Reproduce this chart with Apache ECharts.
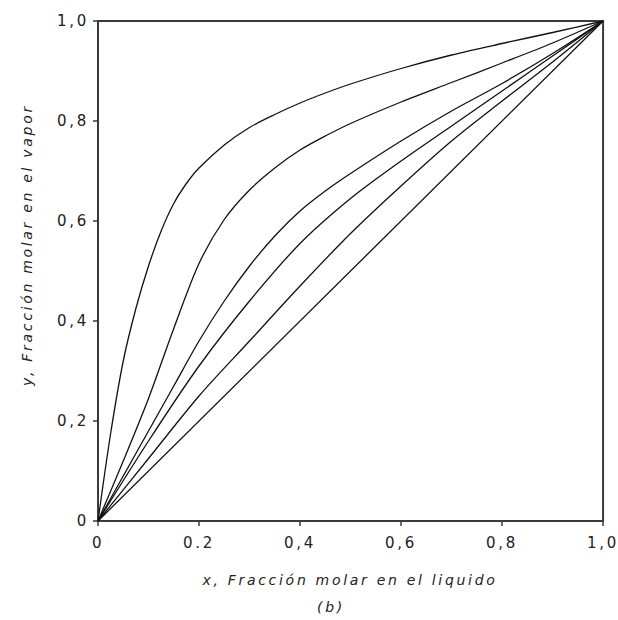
<!DOCTYPE html>
<html>
<head>
<meta charset="utf-8">
<script src="https://cdn.jsdelivr.net/npm/echarts@6/dist/echarts.min.js"></script>
<style>
  html, body { margin: 0; padding: 0; background: #fff; }
  #chart { width: 618px; height: 620px; }
  #chart svg text { letter-spacing: 2.7px; }
</style>
</head>
<body>
<div id="chart"></div>
<script>
// ---- data ----
var xTickLabels = ['0', '0.2', '0,4', '0,6', '0,8', '1,0'];
var yTickLabels = ['0', '0,2', '0,4', '0,6', '0,8', '1,0'];

var c1X = [0, 0.025, 0.05, 0.075, 0.10, 0.125, 0.15, 0.175, 0.20, 0.25, 0.30, 0.35, 0.40, 0.45, 0.50, 0.60, 0.70, 0.80, 0.90, 1.0];
var c1Y = [0, 0.175, 0.32, 0.425, 0.51, 0.58, 0.635, 0.675, 0.706, 0.752, 0.787, 0.813, 0.836, 0.856, 0.874, 0.905, 0.932, 0.955, 0.977, 1.0];

var c2X = [0, 0.05, 0.10, 0.15, 0.20, 0.25, 0.30, 0.35, 0.40, 0.45, 0.50, 0.60, 0.70, 0.80, 0.90, 1.0];
var c2Y = [0, 0.12, 0.245, 0.385, 0.515, 0.603, 0.662, 0.706, 0.742, 0.77, 0.795, 0.838, 0.877, 0.916, 0.956, 1.0];

var c3X = [0, 0.05, 0.10, 0.15, 0.20, 0.25, 0.30, 0.35, 0.40, 0.45, 0.50, 0.60, 0.70, 0.80, 0.90, 1.0];
var c3Y = [0, 0.09, 0.18, 0.27, 0.36, 0.44, 0.51, 0.57, 0.62, 0.66, 0.695, 0.76, 0.82, 0.875, 0.935, 1.0];

var c4X = [0, 0.10, 0.20, 0.30, 0.40, 0.50, 0.60, 0.70, 0.80, 0.90, 1.0];
var c4Y = [0, 0.16, 0.31, 0.44, 0.555, 0.645, 0.72, 0.79, 0.86, 0.93, 1.0];

var c5X = [0, 0.10, 0.20, 0.30, 0.40, 0.50, 0.60, 0.70, 0.80, 0.90, 1.0];
var c5Y = [0, 0.125, 0.25, 0.36, 0.47, 0.575, 0.67, 0.76, 0.84, 0.918, 1.0];

var c6X = [0, 1.0];
var c6Y = [0, 1.0];

var xTitle = 'x, Fracción molar en el liquido';
var yTitle = 'y, Fracción molar en el vapor';
var subTitle = '(b)';

// ---- build ----
function pairs(xs, ys) { return xs.map(function (x, i) { return [x, ys[i]]; }); }
var curves = [[c1X, c1Y], [c2X, c2Y], [c3X, c3Y], [c4X, c4Y], [c5X, c5Y], [c6X, c6Y]];

var FONT = 'DejaVu Sans';
var chart = echarts.init(document.getElementById('chart'), null, { renderer: 'svg' });

function tickFmt(labels) {
  return function (v) { var i = Math.round(v / 0.2); return labels[i] !== undefined ? labels[i] : ''; };
}

var option = {
  animation: false,
  backgroundColor: '#ffffff',
  grid: {
    left: 98, right: 13, top: 21, bottom: 99,
    show: true, borderColor: '#3a3a3a', borderWidth: 2, backgroundColor: 'transparent'
  },
  xAxis: {
    type: 'value', min: 0, max: 1, interval: 0.2,
    axisLine: { show: true, lineStyle: { color: '#3a3a3a', width: 2 } },
    axisTick: { show: true, inside: false, length: 5, lineStyle: { color: '#3a3a3a', width: 1.5 } },
    splitLine: { show: false },
    axisLabel: { formatter: tickFmt(xTickLabels), color: '#222', fontFamily: FONT, fontSize: 15, margin: 14 }
  },
  yAxis: {
    type: 'value', min: 0, max: 1, interval: 0.2,
    axisLine: { show: true, lineStyle: { color: '#3a3a3a', width: 2 } },
    axisTick: { show: true, inside: false, length: 5, lineStyle: { color: '#3a3a3a', width: 1.5 } },
    splitLine: { show: false },
    axisLabel: { formatter: tickFmt(yTickLabels), color: '#222', fontFamily: FONT, fontSize: 15, margin: 9 }
  },
  series: curves.map(function (c) {
    return {
      type: 'line',
      data: pairs(c[0], c[1]),
      showSymbol: false,
      smooth: 0.3,
      lineStyle: { color: '#111', width: 1.3 },
      silent: true
    };
  }),
  graphic: [
    { type: 'text', x: 350, y: 580, style: { text: xTitle, fontFamily: FONT, fontStyle: 'italic', fontSize: 14, fill: '#222', align: 'center', verticalAlign: 'middle' } },
    { type: 'text', x: 331, y: 607, style: { text: subTitle, fontFamily: FONT, fontStyle: 'italic', fontSize: 14, fill: '#222', align: 'center', verticalAlign: 'middle' } },
    { type: 'text', x: 27, y: 245, rotation: Math.PI / 2, style: { text: yTitle, fontFamily: FONT, fontStyle: 'italic', fontSize: 14, fill: '#222', align: 'center', verticalAlign: 'middle' } }
  ]
};
chart.setOption(option);
</script>
</body>
</html>
